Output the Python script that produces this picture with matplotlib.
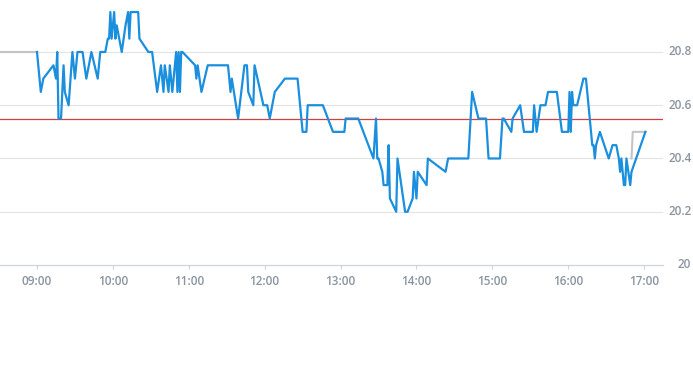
import matplotlib
matplotlib.use("Agg")
import matplotlib.pyplot as plt
import matplotlib.transforms as mtransforms

# intraday price (HH:MM, price)
times = ["09:00", "09:03", "09:05", "09:13", "09:15", "09:16", "09:17", "09:19",
         "09:21", "09:22", "09:25", "09:28", "09:30", "09:32", "09:36", "09:39",
         "09:43", "09:48", "09:50", "09:54", "09:56", "09:57", "09:58", "09:59",
         "10:01", "10:02", "10:03", "10:07", "10:10", "10:12", "10:13", "10:14",
         "10:20", "10:21", "10:28", "10:31", "10:35", "10:38", "10:40", "10:41",
         "10:44", "10:45", "10:47", "10:50", "10:51", "10:52", "10:53", "10:54",
         "10:55", "11:05", "11:06", "11:07", "11:10", "11:15", "11:31", "11:33",
         "11:34", "11:39", "11:44", "11:46", "11:47", "11:51", "11:52", "11:59",
         "12:02", "12:04", "12:08", "12:16", "12:26", "12:30", "12:33", "12:34",
         "12:46", "12:54", "13:03", "13:04", "13:14", "13:26", "13:28", "13:29",
         "13:30", "13:33", "13:34", "13:37", "13:38", "13:39", "13:44", "13:45",
         "13:51", "13:53", "13:57", "13:58", "14:00", "14:01", "14:08", "14:09",
         "14:23", "14:25", "14:41", "14:44", "14:49", "14:55", "14:57", "15:06",
         "15:08", "15:09", "15:15", "15:16", "15:22", "15:25", "15:32", "15:33",
         "15:35", "15:38", "15:42", "15:44", "15:51", "15:55", "16:00", "16:01",
         "16:02", "16:03", "16:04", "16:07", "16:12", "16:14", "16:19", "16:20",
         "16:21", "16:22", "16:25", "16:32", "16:35", "16:38", "16:40", "16:41",
         "16:42", "16:44", "16:45", "16:46", "16:49", "16:50", "17:01"]
prices = [20.80, 20.65, 20.70, 20.75, 20.70, 20.80, 20.55, 20.55,
          20.75, 20.65, 20.60, 20.80, 20.70, 20.80, 20.80, 20.70,
          20.80, 20.70, 20.80, 20.80, 20.85, 20.85, 20.95, 20.85,
          20.95, 20.85, 20.90, 20.80, 20.90, 20.95, 20.85, 20.95,
          20.95, 20.85, 20.80, 20.80, 20.65, 20.75, 20.65, 20.75,
          20.65, 20.75, 20.65, 20.80, 20.65, 20.80, 20.65, 20.80,
          20.80, 20.75, 20.70, 20.75, 20.65, 20.75, 20.75, 20.65,
          20.70, 20.55, 20.75, 20.75, 20.65, 20.60, 20.75, 20.60,
          20.60, 20.55, 20.65, 20.70, 20.70, 20.50, 20.50, 20.60,
          20.60, 20.50, 20.50, 20.55, 20.55, 20.40, 20.55, 20.40,
          20.40, 20.35, 20.30, 20.30, 20.45, 20.25, 20.20, 20.40,
          20.20, 20.20, 20.25, 20.35, 20.25, 20.35, 20.30, 20.40,
          20.35, 20.40, 20.40, 20.65, 20.55, 20.55, 20.40, 20.40,
          20.55, 20.55, 20.50, 20.55, 20.60, 20.50, 20.50, 20.60,
          20.50, 20.60, 20.60, 20.65, 20.65, 20.50, 20.50, 20.65,
          20.50, 20.65, 20.60, 20.60, 20.70, 20.70, 20.45, 20.45,
          20.40, 20.45, 20.50, 20.40, 20.45, 20.45, 20.40, 20.35,
          20.40, 20.30, 20.30, 20.40, 20.30, 20.35, 20.50]

# pre-market / after-hours (grey)
pre_times = ["08:00", "09:00"]
pre_prices = [20.80, 20.80]
post_times = ["16:50", "16:51", "17:01"]
post_prices = [20.40, 20.50, 20.50]

prev_close = 20.55

xtick_labels = ["09:00", "10:00", "11:00", "12:00", "13:00", "14:00", "15:00", "16:00", "17:00"]
ytick_values = [20.0, 20.2, 20.4, 20.6, 20.8]
ytick_labels = ["20", "20.2", "20.4", "20.6", "20.8"]


def to_min(s):
    h, m = s.split(":")
    return int(h) * 60 + int(m)


x = [to_min(t) for t in times]
x_pre = [to_min(t) for t in pre_times]
x_post = [to_min(t) for t in post_times]

label_color = "#8a95a2"
plt.rcParams['font.family'] = ['Open Sans', 'DejaVu Sans']

fig = plt.figure(figsize=(6.93, 3.65), dpi=100)
ax = fig.add_axes([0, 0.274, 0.9567, 0.7295])

for yv in ytick_values[1:]:
    ax.axhline(yv, color="#e3e3e3", lw=0.8, zorder=1)

ax.plot(x_pre, pre_prices, color="#c4c4c4", lw=1.5, zorder=2)
ax.plot(x_post, post_prices, color="#c4c4c4", lw=1.5, zorder=2)
ax.plot(x, prices, color="#1a8fdd", lw=1.6, zorder=3)
ax.axhline(prev_close, color="#d0413e", lw=0.9, zorder=2)

ax.set_xlim(510.75, 1034.9)
ax.set_ylim(20.0, 21.0)

for s in ["top", "left", "right"]:
    ax.spines[s].set_visible(False)
ax.spines["bottom"].set_color("#ccd4dc")
ax.spines["bottom"].set_linewidth(0.9)

ax.set_xticks([to_min(t) for t in xtick_labels])
ax.set_xticklabels(xtick_labels)
ax.tick_params(axis="x", length=3, width=0.8, color="#ccd4dc", pad=4,
               labelsize=8.5, labelcolor=label_color)
for lab in ax.get_xticklabels():
    lab.set_fontweight("semibold")

# right-hand price labels (the bottom one sits a little further right)
ax.set_yticks([])
for yv, lab in zip(ytick_values, ytick_labels):
    shift = 15 if yv == 20.0 else 6
    tr = ax.get_yaxis_transform() + mtransforms.ScaledTranslation(shift / 100, 0, fig.dpi_scale_trans)
    ax.text(1.0, yv, lab, transform=tr, ha="left", va="center",
            fontsize=8.5, color=label_color, fontweight="semibold")

fig.savefig("out.png", dpi=100)
